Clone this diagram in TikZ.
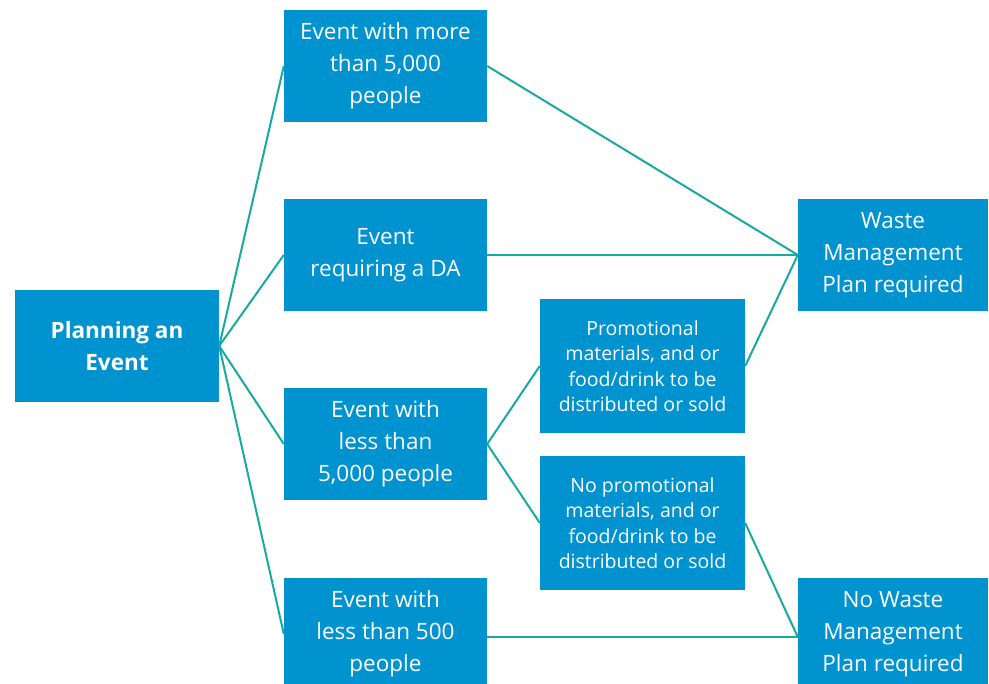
\documentclass[tikz,border=0pt]{standalone}
\usepackage{fontspec}
\setmainfont{Open Sans}
\definecolor{boxblue}{RGB}{0,147,208}
\definecolor{linkteal}{RGB}{22,170,160}
\begin{document}
\begin{tikzpicture}[x=1pt, y=-1pt,
    main node/.style={rectangle, fill=boxblue, text=white, align=center, inner sep=0pt,
      minimum width=203pt, minimum height=112pt, font=\fontsize{22.5}{32}\selectfont},
    small node/.style={main node, minimum width=205pt, minimum height=134pt, font=\fontsize{19.5}{25.5}\selectfont},
    link/.style={draw=linkteal, line width=2pt}]
        \useasboundingbox (0,0) rectangle (989,684);

          \node[main node, minimum width=204pt] (plan) at (117,346) {\bfseries Planning an\\\bfseries Event};
          \node[main node] (more) at (385.5,66) {Event with more\\than 5,000\\people};
          \node[main node] (da) at (385.5,255) {Event\\requiring a DA};
          \node[main node] (less) at (385.5,444) {Event with\\less than\\5,000 people};
          \node[main node] (small) at (385.5,634) {Event with\\less than 500\\people};
          \node[small node] (promo) at (642.5,366) {Promotional\\materials, and or\\food/drink to be\\distributed or sold};
          \node[small node] (nopromo) at (642.5,523) {No promotional\\materials, and or\\food/drink to be\\distributed or sold};
          \node[main node, minimum width=190pt] (waste) at (893,255) {Waste\\Management\\Plan required};
          \node[main node, minimum width=190pt] (nowaste) at (893,634) {No Waste\\Management\\Plan required};

          \path[link]
            (plan.east) edge (more.west)
                        edge (da.west)
                        edge (less.west)
                        edge (small.west)
            (less.east) edge (promo.west)
                        edge (nopromo.west)
            (more.east) edge (waste.west)
            (da.east) edge (waste.west)
            (promo.east) edge (waste.west)
            (nopromo.east) edge ([yshift=-3pt]nowaste.west)
            ([yshift=-3pt]small.east) edge ([yshift=-3pt]nowaste.west);

        \end{tikzpicture}
\end{document}
